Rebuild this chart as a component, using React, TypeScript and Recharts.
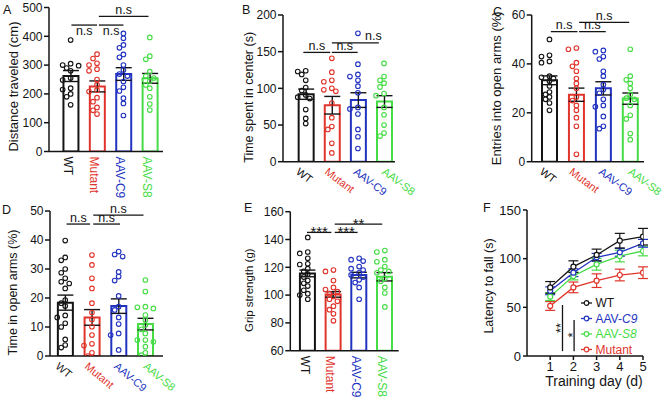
import React from 'react';
import {
  ComposedChart,
  Bar,
  Cell,
  ErrorBar,
  Scatter,
  Line,
  XAxis,
  YAxis,
  ReferenceLine,
  Legend,
} from 'recharts';

const FONT = '"Liberation Sans", Arial, Helvetica, sans-serif';
const INK = '#141414';

const GROUPS = ['WT', 'Mutant', 'AAV-C9', 'AAV-S8'];
const GROUP_COLORS = ['#141414', '#e0352c', '#2233c0', '#46dc46'];

// A - distance traveled (cm)
const distWT = [387, 305, 300, 298, 290, 280, 255, 248, 220, 215, 200, 190, 162];
const distMutant = [338, 323, 306, 300, 286, 280, 250, 232, 213, 208, 187, 173, 153, 143, 130];
const distC9 = [410, 393, 370, 360, 337, 327, 300, 283, 269, 262, 243, 223, 210, 185, 167, 125];
const distS8 = [396, 331, 320, 277, 262, 255, 245, 231, 220, 190, 165, 144];
const distMean = [262, 226, 269, 254];
const distSem = [19, 19, 22, 17];

// B - time spent in center (s)
const centerWT = [124, 123, 119, 111, 101, 97, 91, 88, 86, 71, 59, 52];
const centerMutant = [141, 122, 111, 109, 100, 98, 96, 80, 60, 48, 44, 25, 12];
const centerC9 = [175, 133, 119, 116, 111, 103, 94, 74, 72, 65, 44, 34, 18];
const centerS8 = [134, 116, 111, 107, 102, 93, 90, 74, 64, 50, 39, 35];
const centerMean = [92, 77, 84, 82];
const centerSem = [7, 12, 10, 8];

// C - entries into open arms (%)
const entriesWT = [50, 43.5, 43, 41, 40.5, 35, 34.5, 34, 33, 31, 28.5, 27.5, 26.5, 25.5, 24, 21];
const entriesMutant = [46.5, 46, 40.5, 39, 37, 34, 32, 30, 26.5, 25, 23, 21, 18, 14.5, 3];
const entriesC9 = [45.5, 45, 43, 42, 37, 35, 31.5, 29.5, 28, 25.5, 23, 22.5, 18.5, 14.5, 13.5];
const entriesS8 = [46, 35, 33.5, 32, 30, 27.5, 26, 25.5, 23, 19, 17.5, 11.5, 9];
const entriesMean = [33.3, 27.4, 30, 25.8];
const entriesSem = [1.8, 2.7, 2.7, 2.3];

// D - time in open arms (%)
const openWT = [39.8, 34, 33, 30, 28.7, 26.8, 25.6, 25, 23.3, 19.3, 18.2, 17.2, 14, 13.3, 11.3, 10, 5.7, 3.8, 2.9];
const openMutant = [34.8, 31.4, 26.8, 23.3, 18.2, 15, 12.6, 10.1, 7.2, 4.2, 3.6, 1.1, 0];
const openC9 = [36, 35, 34.3, 29, 27.4, 26, 20.7, 17, 15.9, 13.3, 11, 7.8, 7.2, 2.1];
const openS8 = [26.2, 22.2, 17, 16.8, 16.4, 14.1, 12.4, 10.7, 9.2, 7.8, 5.5, 5.5, 4.9, 3.2, 1.1, 0.3];
const openMean = [18.4, 13.3, 17.2, 11];
const openSem = [2.6, 2.7, 2.5, 2];

// E - grip strength (g)
const gripWT = [141.5, 131, 130, 126.5, 122.5, 122, 119, 117, 115, 113, 110.5, 108.5, 106.5, 103.5, 101, 100, 97];
const gripMutant = [118, 117, 110.5, 105.5, 104, 102.5, 101, 99, 97, 95.5, 92, 89.5, 86.5, 81.5];
const gripC9 = [126.5, 125.5, 124.5, 120.5, 119, 118, 116, 114.5, 113, 111, 109, 105.5, 97];
const gripS8 = [132, 131, 125.5, 124, 120.5, 118, 117, 116, 112, 110, 105.5, 101.5, 91.5];
const gripMean = [115.6, 100.5, 114.4, 113.2];
const gripSem = [2.4, 2, 2, 3];

// F - rotarod latency to fall (s)
const trainingDays = [1, 2, 3, 4, 5];
const latencyWT = [70.5, 91.8, 103.8, 118.5, 122.6];
const latencyWTErr = [6, 6, 6, 7.5, 8.5];
const latencyC9 = [67, 85.6, 101.4, 106.5, 115.8];
const latencyC9Err = [4, 4, 4, 4, 4];
const latencyS8 = [61, 82.2, 94.2, 102.7, 107.9];
const latencyS8Err = [4, 4, 6, 6, 5];
const latencyMutant = [51.4, 70.5, 77.4, 83.2, 85.6];
const latencyMutantErr = [4.5, 5.5, 7, 6, 6];

type Bracket = { from: number; to: number; y: number; text: string; below?: boolean; dx?: number };

type PanelSpec = {
  letter: string;
  letterPos: [number, number];
  box: [number, number, number, number];
  plot: [number, number, number, number];
  xDomain: [number, number];
  yDomain: [number, number];
  yTicks: number[];
  points: number[][];
  means: number[];
  sems: number[];
  brackets: Bracket[];
  yLabel: string;
  labelX: number;
  labelDy: number;
  labelSize: number;
  tickAngle: number;
};

// spread points sideways so overlapping circles stay visible
function swarm(vals: number[], pxPerUnit: number): number[] {
  const placed: [number, number][] = [];
  const step = 4;
  return vals.map((v) => {
    const py = v * pxPerUnit;
    for (let k = 0; k < 5; k++) {
      const slot = k === 0 ? 0 : (k % 2 ? -1 : 1) * Math.ceil(k / 2);
      const px = slot * step;
      if (placed.every(([qx, qy]) => Math.hypot(qx - px, qy - py) >= 4.6)) {
        placed.push([px, py]);
        return px;
      }
    }
    placed.push([0, py]);
    return 0;
  });
}

const bracketLabel = (b: Bracket) => (p: any) => {
  const vb = p && p.viewBox ? p.viewBox : { x: 0, y: 0, width: 0 };
  const star = b.text.startsWith('*');
  const cx = vb.x + (vb.width || 0) / 2 + (b.dx || 0);
  const y = b.below ? vb.y + 10 : star ? vb.y + 4.8 : vb.y - 2.5;
  return (
    <text x={cx} y={y} textAnchor="middle" fontSize={star ? 15 : 12.5} fill={INK} fontFamily={FONT}>
      {b.text}
    </text>
  );
};

function GroupTick(props: any) {
  const { x, y, payload, angle } = props;
  const i = Math.round(payload.value);
  const label = GROUPS[i];
  if (!label) return null;
  const upright = angle === 90;
  const bx = upright ? x - 7 : x - 10.5 + i * 2.6;
  const by = upright ? y + 5 : y + 11.5;
  return (
    <text
      x={bx}
      y={by}
      transform={`rotate(${angle}, ${bx}, ${by})`}
      textAnchor="start"
      fontSize={upright ? 12 : 11}
      fill={GROUP_COLORS[i]}
      fontFamily={FONT}
    >
      {label}
    </text>
  );
}

function BarPanel({ spec }: { spec: PanelSpec }) {
  const [L, T, W, H] = spec.box;
  const [x0, x1, yTop, yBot] = spec.plot;
  const pxPerUnit = (yBot - yTop) / (spec.yDomain[1] - spec.yDomain[0]);
  const pxPerCat = (x1 - x0) / (spec.xDomain[1] - spec.xDomain[0]);
  const rows = spec.means.map((m, i) => ({ x: i, mean: m, sem: spec.sems[i] }));
  const dots = spec.points.map((vals, g) => {
    const offs = swarm(vals, pxPerUnit);
    return vals.map((v, i) => ({ x: g + offs[i] / pxPerCat, y: v }));
  });
  const lx = spec.labelX - L + 0.26 * spec.labelSize;
  const ly = (yTop + yBot) / 2 - T + spec.labelDy;
  const axisStyle = { stroke: INK, strokeWidth: 1.5 };
  return (
    <div style={{ position: 'absolute', left: L, top: T, width: W, height: H }}>
      <ComposedChart
        width={W}
        height={H}
        data={rows}
        margin={{ top: yTop - T, right: L + W - x1, bottom: 0, left: 0 }}
      >
        <XAxis
          type="number"
          dataKey="x"
          domain={spec.xDomain}
          ticks={[0, 1, 2, 3]}
          interval={0}
          allowDataOverflow
          height={T + H - yBot}
          tickLine={false}
          tickSize={0}
          tickMargin={0}
          axisLine={axisStyle}
          tick={(p: any) => <GroupTick {...p} angle={spec.tickAngle} />}
        />
        <XAxis xAxisId="dots" type="number" dataKey="x" domain={spec.xDomain} allowDataOverflow hide />
        <YAxis
          type="number"
          domain={spec.yDomain}
          ticks={spec.yTicks}
          interval={0}
          allowDataOverflow
          width={x0 - L}
          tickSize={5}
          tickMargin={1.5}
          axisLine={axisStyle}
          tickLine={axisStyle}
          tick={{ fontSize: 12, fill: INK, fontFamily: FONT }}
          label={() => (
            <text
              x={lx}
              y={ly}
              transform={`rotate(-90, ${lx}, ${ly})`}
              textAnchor="middle"
              fontSize={spec.labelSize}
              fill={INK}
              fontFamily={FONT}
            >
              {spec.yLabel}
            </text>
          )}
        />
        <Bar dataKey="mean" barSize={15} fill="#ffffff" strokeWidth={2} isAnimationActive={false}>
          {rows.map((r, i) => (
            <Cell key={r.x} stroke={GROUP_COLORS[i]} />
          ))}
          <ErrorBar dataKey="sem" width={8} stroke={INK} strokeWidth={1.4} />
        </Bar>
        {dots.map((d, g) => (
          <Scatter
            key={GROUPS[g]}
            xAxisId="dots"
            data={d}
            dataKey="y"
            isAnimationActive={false}
            shape={(p: any) => (
              <circle cx={p.cx} cy={p.cy} r={2.3} fill="none" stroke={GROUP_COLORS[g]} strokeWidth={1.1} />
            )}
          />
        ))}
        {spec.brackets.map((b, k) => (
          <ReferenceLine
            key={k}
            segment={[
              { x: b.from, y: b.y },
              { x: b.to, y: b.y },
            ]}
            stroke={INK}
            strokeWidth={1.3}
            ifOverflow="visible"
            label={bracketLabel(b)}
          />
        ))}
      </ComposedChart>
    </div>
  );
}

const panels: PanelSpec[] = [
  {
    letter: 'A',
    letterPos: [3, 13.5],
    box: [0, 0, 222, 200],
    plot: [49, 163, 7.5, 151.5],
    xDomain: [-0.82, 3.5],
    yDomain: [0, 500],
    yTicks: [0, 100, 200, 300, 400, 500],
    points: [distWT, distMutant, distC9, distS8],
    means: distMean,
    sems: distSem,
    brackets: [
      { from: 0.03, to: 1, y: 439, text: 'n.s', below: true },
      { from: 1.07, to: 2, y: 439, text: 'n.s', below: true },
      { from: 1.07, to: 2.95, y: 469, text: 'n.s' },
    ],
    yLabel: 'Distance traveled (cm)',
    labelX: 15,
    labelDy: 7,
    labelSize: 13,
    tickAngle: 90,
  },
  {
    letter: 'B',
    letterPos: [242, 13.5],
    box: [222, 0, 222, 200],
    plot: [283, 395, 15, 161.7],
    xDomain: [-0.87, 3.42],
    yDomain: [0, 200],
    yTicks: [0, 50, 100, 150, 200],
    points: [centerWT, centerMutant, centerC9, centerS8],
    means: centerMean,
    sems: centerSem,
    brackets: [
      { from: -0.09, to: 0.94, y: 149, text: 'n.s' },
      { from: 1, to: 1.99, y: 149, text: 'n.s' },
      { from: 1, to: 2.8, y: 162, text: 'n.s', dx: 18 },
    ],
    yLabel: 'Time spent in center (s)',
    labelX: 250,
    labelDy: 9,
    labelSize: 12.5,
    tickAngle: 37,
  },
  {
    letter: 'C',
    letterPos: [493, 15.5],
    box: [444, 0, 222, 200],
    plot: [531.7, 644, 15, 161.7],
    xDomain: [-0.66, 3.51],
    yDomain: [0, 60],
    yTicks: [0, 20, 40, 60],
    points: [entriesWT, entriesMutant, entriesC9, entriesS8],
    means: entriesMean,
    sems: entriesSem,
    brackets: [
      { from: 0.05, to: 1.04, y: 53.2, text: 'n.s' },
      { from: 1.1, to: 2.09, y: 53.2, text: 'n.s' },
      { from: 1.1, to: 2.96, y: 57, text: 'n.s' },
    ],
    yLabel: 'Entries into open arms (%)',
    labelX: 498,
    labelDy: 0,
    labelSize: 13,
    tickAngle: 37,
  },
  {
    letter: 'D',
    letterPos: [2, 213.5],
    box: [0, 200, 222, 202],
    plot: [50, 163, 211, 356],
    xDomain: [-0.57, 3.66],
    yDomain: [0, 50],
    yTicks: [0, 10, 20, 30, 40, 50],
    points: [openWT, openMutant, openC9, openS8],
    means: openMean,
    sems: openSem,
    brackets: [
      { from: 0.05, to: 0.93, y: 45.5, text: 'n.s' },
      { from: 1.05, to: 2.05, y: 45.5, text: 'n.s' },
      { from: 1.05, to: 2.93, y: 48.6, text: 'n.s' },
    ],
    yLabel: 'Time in open arms (%)',
    labelX: 13.5,
    labelDy: 9,
    labelSize: 12.5,
    tickAngle: 40,
  },
  {
    letter: 'E',
    letterPos: [244, 212],
    box: [222, 200, 222, 202],
    plot: [290.3, 398.7, 211.7, 350.7],
    xDomain: [-0.68, 3.54],
    yDomain: [60, 160],
    yTicks: [60, 80, 100, 120, 140, 160],
    points: [gripWT, gripMutant, gripC9, gripS8],
    means: gripMean,
    sems: gripSem,
    brackets: [
      { from: -0.03, to: 0.92, y: 145.1, text: '***' },
      { from: 1.05, to: 1.94, y: 145.1, text: '***' },
      { from: 1.05, to: 2.9, y: 151.1, text: '**' },
    ],
    yLabel: 'Grip strength (g)',
    labelX: 250,
    labelDy: 9,
    labelSize: 11.5,
    tickAngle: 90,
  },
];

const LATENCY_SERIES = [
  { key: 'wt', name: 'WT', color: GROUP_COLORS[0], values: latencyWT, errors: latencyWTErr },
  { key: 'c9', name: 'AAV-C9', color: GROUP_COLORS[2], values: latencyC9, errors: latencyC9Err },
  { key: 's8', name: 'AAV-S8', color: GROUP_COLORS[3], values: latencyS8, errors: latencyS8Err },
  { key: 'mut', name: 'Mutant', color: GROUP_COLORS[1], values: latencyMutant, errors: latencyMutantErr },
];

function LatencyLegend() {
  return (
    <svg width={80} height={64} style={{ display: 'block' }}>
      {LATENCY_SERIES.map((s, i) => {
        const cy = 6 + i * 15.5;
        const italic = s.name.startsWith('AAV-');
        return (
          <g key={s.key}>
            <line x1={1} x2={12} y1={cy} y2={cy} stroke={s.color} strokeWidth={1.3} />
            <circle cx={6.5} cy={cy} r={2.3} fill="#fff" stroke={s.color} strokeWidth={1.2} />
            <text x={15.5} y={cy + 4.2} fontSize={12} fill={s.color} fontFamily={FONT}>
              {italic ? (
                <>
                  AAV-<tspan fontStyle="italic">{s.name.slice(4)}</tspan>
                </>
              ) : (
                s.name
              )}
            </text>
          </g>
        );
      })}
    </svg>
  );
}

const sigLabel = (text: string, dx: number, cyAbs: number) => (p: any) => {
  const vb = p && p.viewBox ? p.viewBox : { x: 0, y: 0 };
  const x = vb.x + dx + 7.6;
  const y = cyAbs - 200;
  return (
    <text x={x} y={y} transform={`rotate(-90, ${x}, ${y})`} textAnchor="middle" fontSize={13} fill={INK} fontFamily={FONT}>
      {text}
    </text>
  );
};

function LatencyPanel() {
  const rows = trainingDays.map((d, i) => {
    const row: Record<string, number> = { day: d };
    LATENCY_SERIES.forEach((s) => {
      row[s.key] = s.values[i];
      row[s.key + 'Err'] = s.errors[i];
    });
    return row;
  });
  const axisStyle = { stroke: INK, strokeWidth: 1.5 };
  return (
    <div style={{ position: 'absolute', left: 444, top: 200, width: 222, height: 202 }}>
      <ComposedChart width={222} height={202} data={rows} margin={{ top: 10, right: 23, bottom: 0, left: 0 }}>
        <XAxis
          type="number"
          dataKey="day"
          domain={[0, 5]}
          ticks={trainingDays}
          interval={0}
          allowDataOverflow
          height={46}
          tickSize={4}
          tickMargin={2}
          axisLine={axisStyle}
          tickLine={axisStyle}
          tick={{ fontSize: 13, fill: INK, fontFamily: FONT }}
          label={() => (
            <text x={150} y={186} textAnchor="middle" fontSize={14} fill={INK} fontFamily={FONT}>
              Training day (d)
            </text>
          )}
        />
        <YAxis
          type="number"
          domain={[0, 150]}
          ticks={[0, 50, 100, 150]}
          interval={0}
          allowDataOverflow
          width={83}
          tickSize={4}
          tickMargin={2}
          axisLine={axisStyle}
          tickLine={axisStyle}
          tick={{ fontSize: 13, fill: INK, fontFamily: FONT }}
          label={() => (
            <text x={49.3} y={86} transform="rotate(-90, 49.3, 86)" textAnchor="middle" fontSize={12.5} fill={INK} fontFamily={FONT}>
              Latency to fall (s)
            </text>
          )}
        />
        {[...LATENCY_SERIES].reverse().map((s) => (
          <Line
            key={s.key}
            dataKey={s.key}
            stroke={s.color}
            strokeWidth={1.3}
            dot={{ r: 2.5, fill: '#ffffff', stroke: s.color, strokeWidth: 1.2 }}
            activeDot={false}
            isAnimationActive={false}
          >
            <ErrorBar dataKey={s.key + 'Err'} width={5} stroke={s.color} strokeWidth={1.2} />
          </Line>
        ))}
        <ReferenceLine
          segment={[
            { x: 1.53, y: 52.4 },
            { x: 1.53, y: 5 },
          ]}
          stroke={INK}
          strokeWidth={1.3}
          ifOverflow="visible"
          label={sigLabel('**', -5, 328)}
        />
        <ReferenceLine
          segment={[
            { x: 2.03, y: 37 },
            { x: 2.03, y: 5 },
          ]}
          stroke={INK}
          strokeWidth={1.3}
          ifOverflow="visible"
          label={sigLabel('*', -4.7, 335)}
        />
        <Legend
          layout="vertical"
          align="center"
          verticalAlign="middle"
          content={() => <LatencyLegend />}
          wrapperStyle={{ position: 'absolute', left: 136, top: 97, width: 80, height: 64 }}
        />
      </ComposedChart>
    </div>
  );
}

export default function App() {
  return (
    <div
      style={{
        position: 'absolute',
        left: 0,
        top: 0,
        width: 666,
        height: 402,
        background: '#ffffff',
        fontFamily: FONT,
        overflow: 'hidden',
      }}
    >
      {panels.map((spec) => (
        <BarPanel key={spec.letter} spec={spec} />
      ))}
      <LatencyPanel />
      <svg width={666} height={402} style={{ position: 'absolute', left: 0, top: 0, pointerEvents: 'none' }}>
        {[...panels.map((p) => ({ letter: p.letter, pos: p.letterPos })), { letter: 'F', pos: [483, 212] }].map((p) => (
          <text key={p.letter} x={p.pos[0]} y={p.pos[1]} fontSize={12.5} fill={INK} fontFamily={FONT}>
            {p.letter}
          </text>
        ))}
      </svg>
    </div>
  );
}
